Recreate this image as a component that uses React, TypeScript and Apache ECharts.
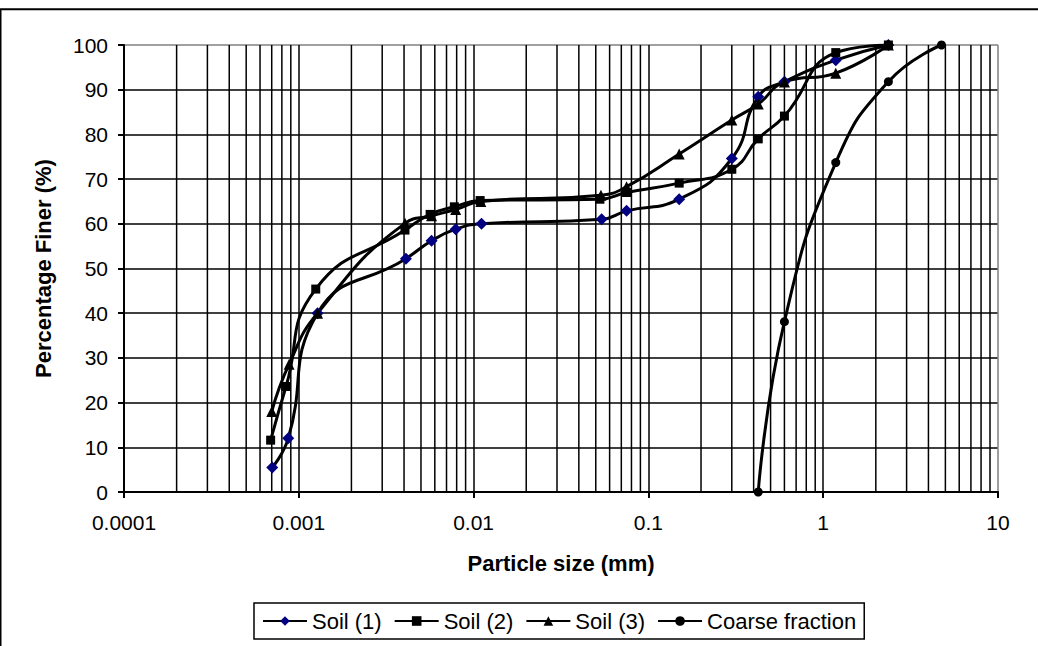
import React, { useEffect, useRef } from "react";
import * as echarts from "echarts";

const FONT = '"Liberation Sans", Arial, Helvetica, sans-serif';

// Tick labels
const X_TICK_LABELS = ["0.0001", "0.001", "0.01", "0.1", "1", "10"];
const Y_MIN = 0;
const Y_MAX = 100;
const Y_STEP = 10;

// Minor (log) grid lines
const MINOR_DECADES = [0.0001, 0.001, 0.01, 0.1, 1];
const MINOR_MULTIPLES = [2, 3, 4, 5, 6, 7, 8, 9];

// Series data (particle size in mm, percentage finer)
const SIZE_SOIL1 = [0.000705, 0.00087, 0.00128, 0.0041, 0.00575, 0.0079, 0.0111, 0.054, 0.075, 0.15, 0.3, 0.425, 0.6, 1.18, 2.36];
const FINER_SOIL1 = [5.5, 12, 40, 52.2, 56.2, 58.8, 60, 61, 62.9, 65.5, 74.6, 88.4, 91.8, 96.6, 100];

const SIZE_SOIL2 = [0.00069, 0.000845, 0.00125, 0.00405, 0.00564, 0.00776, 0.0109, 0.0528, 0.075, 0.15, 0.3, 0.425, 0.6, 1.18, 2.36];
const FINER_SOIL2 = [11.6, 23.6, 45.4, 58.6, 62.1, 63.8, 65.2, 65.5, 67, 69.1, 72.2, 79, 84.1, 98.3, 100];

const SIZE_SOIL3 = [0.0007, 0.00088, 0.00128, 0.00405, 0.00575, 0.0079, 0.011, 0.0535, 0.075, 0.15, 0.3, 0.425, 0.6, 1.18, 2.36];
const FINER_SOIL3 = [18, 28.6, 40, 60.1, 61.8, 63.2, 65, 66.4, 68.3, 75.6, 83.2, 86.8, 91.7, 93.7, 100];

const SIZE_COARSE = [0.425, 0.6, 1.18, 2.36, 4.75];
const FINER_COARSE = [0, 38.1, 73.7, 91.8, 100];

const NAMES = ["Soil (1)", "Soil (2)", "Soil (3)", "Coarse fraction"];

const zip = (xs: number[], ys: number[]) => xs.map((x, i) => [x, ys[i]]);

export default function App() {
  const ref = useRef<HTMLDivElement>(null);

  useEffect(() => {
    if (!ref.current) return;
    const chart = echarts.init(ref.current, undefined, { renderer: "svg" });

    const minorValues: number[][] = [];
    MINOR_DECADES.forEach((d) =>
      MINOR_MULTIPLES.forEach((k) => minorValues.push([+(d * k).toPrecision(6), Y_MIN]))
    );

    const yLineColors: string[] = [];
    for (let v = Y_MIN; v <= Y_MAX; v += Y_STEP) yLineColors.push(v === Y_MAX ? "#808080" : "#000");
    const xLineColors = X_TICK_LABELS.map((_, i) => (i === X_TICK_LABELS.length - 1 ? "#808080" : "#000"));

    const lineBase = {
      type: "line" as const,
      smooth: 0.5,
      lineStyle: { color: "#000", width: 3 },
      z: 3,
    };

    chart.setOption({
      animation: false,
      backgroundColor: "#fff",
      textStyle: { fontFamily: FONT, color: "#000" },
      graphic: [
        {
          type: "rect",
          shape: { x: 0.5, y: 9.3, width: 3000, height: 3000 },
          style: { fill: "none", stroke: "#000", lineWidth: 2 },
          silent: true,
          z: 100,
        },
      ],
      grid: { left: 124, top: 45, right: 40, bottom: 154, containLabel: false },
      legend: {
        data: NAMES,
        left: 254,
        top: 603,
        orient: "horizontal",
        itemWidth: 44,
        itemHeight: 12,
        itemGap: 12,
        padding: [7, 8, 7, 8],
        borderColor: "#000",
        borderWidth: 1.5,
        textStyle: { fontSize: 22, color: "#000", fontFamily: FONT },
      },
      xAxis: {
        type: "log",
        logBase: 10,
        min: 0.0001,
        max: 10,
        name: "Particle size (mm)",
        nameLocation: "middle",
        nameGap: 60,
        nameTextStyle: { fontSize: 22, fontWeight: "bold", color: "#000", fontFamily: FONT },
        axisLine: { show: true, onZero: false, lineStyle: { color: "#000", width: 2 } },
        axisTick: { show: true, inside: false, length: 6, lineStyle: { color: "#000", width: 2 } },
        axisLabel: {
          fontSize: 21,
          color: "#000",
          fontFamily: FONT,
          margin: 20,
          formatter: (v: number) => X_TICK_LABELS[Math.round(Math.log10(v)) + 4] ?? String(v),
        },
        splitLine: { show: true, lineStyle: { color: xLineColors, width: 1.5 } },
        minorTick: { show: false },
        minorSplitLine: { show: false },
      },
      yAxis: {
        type: "value",
        min: Y_MIN,
        max: Y_MAX,
        interval: Y_STEP,
        name: "Percentage Finer (%)",
        nameLocation: "middle",
        nameRotate: 90,
        nameGap: 70,
        nameTextStyle: { fontSize: 22, fontWeight: "bold", color: "#000", fontFamily: FONT },
        axisLine: { show: true, lineStyle: { color: "#000", width: 2 } },
        axisTick: { show: true, inside: false, length: 6, lineStyle: { color: "#000", width: 2 } },
        axisLabel: { fontSize: 21, color: "#000", fontFamily: FONT, margin: 16 },
        splitLine: { show: true, lineStyle: { color: yLineColors, width: 1.5 } },
      },
      series: [
        {
          name: "__minorGrid",
          type: "custom",
          silent: true,
          z: 1,
          clip: true,
          data: minorValues,
          encode: { x: 0, y: 1 },
          renderItem: (_params: any, api: any) => {
            const x = api.value(0);
            const p0 = api.coord([x, Y_MIN]);
            const p1 = api.coord([x, Y_MAX]);
            return {
              type: "line",
              shape: { x1: p0[0], y1: p0[1], x2: p1[0], y2: p1[1] },
              style: { stroke: "#000", lineWidth: 1.5 },
              silent: true,
            };
          },
        },
        {
          ...lineBase,
          name: NAMES[0],
          data: zip(SIZE_SOIL1, FINER_SOIL1),
          symbol: "diamond",
          symbolSize: 12,
          itemStyle: { color: "#000080" },
        },
        {
          ...lineBase,
          name: NAMES[1],
          data: zip(SIZE_SOIL2, FINER_SOIL2),
          symbol: "rect",
          symbolSize: 9,
          itemStyle: { color: "#000" },
        },
        {
          ...lineBase,
          name: NAMES[2],
          data: zip(SIZE_SOIL3, FINER_SOIL3),
          symbol: "triangle",
          symbolSize: 11,
          itemStyle: { color: "#000" },
        },
        {
          ...lineBase,
          name: NAMES[3],
          data: zip(SIZE_COARSE, FINER_COARSE),
          symbol: "circle",
          symbolSize: 9,
          itemStyle: { color: "#000" },
        },
      ],
    });

    return () => chart.dispose();
  }, []);

  return (
    <div
      ref={ref}
      style={{ position: "absolute", left: 0, top: 0, width: 1038, height: 646, background: "#fff" }}
    />
  );
}
